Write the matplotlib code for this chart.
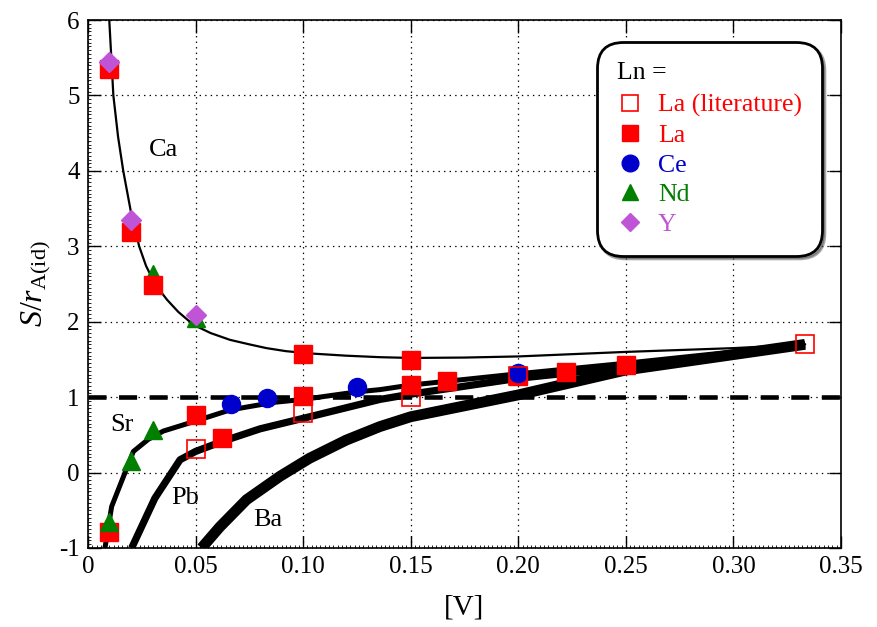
import matplotlib
matplotlib.use("Agg")
import matplotlib.pyplot as plt
from matplotlib.ticker import MultipleLocator
from matplotlib.lines import Line2D

plt.rcParams['font.family'] = ['Liberation Serif', 'DejaVu Serif']
plt.rcParams['mathtext.fontset'] = 'custom'
plt.rcParams['mathtext.rm'] = 'Liberation Serif'
plt.rcParams['mathtext.it'] = 'Liberation Serif:italic'
plt.rcParams['axes.unicode_minus'] = False
plt.rcParams['lines.scale_dashes'] = False

# ---- data ----
la_lit_x = [0.05, 0.10, 0.15, 0.20, 0.3333]
la_lit_y = [0.31, 0.79, 1.00, 1.28, 1.70]

la_x = [0.01, 0.01, 0.02, 0.03, 0.05, 0.0625, 0.10, 0.10, 0.15, 0.15, 0.1667, 0.20, 0.2222, 0.25]
la_y = [5.35, -0.79, 3.19, 2.49, 0.76, 0.46, 1.57, 1.02, 1.49, 1.16, 1.22, 1.28, 1.34, 1.42]

ce_x = [0.0667, 0.0833, 0.125, 0.20]
ce_y = [0.91, 0.99, 1.13, 1.32]

nd_x = [0.01, 0.02, 0.03, 0.05]
nd_y = [5.40, 3.28, 2.63, 2.05]
nd_x2 = [0.01, 0.02, 0.03]
nd_y2 = [-0.65, 0.15, 0.565]

y_x = [0.01, 0.02, 0.05]
y_y = [5.45, 3.35, 2.09]

ca_x = [0.0099, 0.0118, 0.0140, 0.0164, 0.020, 0.0238, 0.027, 0.030, 0.033, 0.0368, 0.042, 0.049,
        0.057, 0.066, 0.075, 0.083, 0.092, 0.103, 0.120, 0.1357, 0.15, 0.175, 0.20, 0.25, 0.30, 0.3333]
ca_y = [6.0, 5.0, 4.45, 4.0, 3.45, 3.0, 2.74, 2.57, 2.43, 2.29, 2.13, 1.96,
        1.85, 1.76, 1.70, 1.65, 1.61, 1.58, 1.55, 1.53, 1.52, 1.525, 1.54, 1.60, 1.65, 1.70]

sr_x = [0.0079, 0.011, 0.0211, 0.028, 0.035, 0.0474, 0.066, 0.0861, 0.10, 0.125, 0.1357, 0.15, 0.20, 0.25, 0.3333]
sr_y = [-1.0, -0.45, 0.28, 0.44, 0.55, 0.66, 0.83, 0.93, 0.97, 1.07, 1.10, 1.16, 1.31, 1.45, 1.70]

pb_x = [0.0203, 0.0311, 0.0428, 0.05, 0.0621, 0.080, 0.103, 0.1357, 0.15, 0.20, 0.25, 0.3333]
pb_y = [-1.0, -0.34, 0.17, 0.28, 0.41, 0.58, 0.74, 0.97, 1.04, 1.25, 1.40, 1.70]

ba_x = [0.0528, 0.0613, 0.0737, 0.0892, 0.103, 0.120, 0.1357, 0.15, 0.20, 0.25, 0.3333]
ba_y = [-1.0, -0.72, -0.36, -0.05, 0.19, 0.43, 0.61, 0.74, 1.03, 1.36, 1.70]

xticks = [0, 0.05, 0.10, 0.15, 0.20, 0.25, 0.30, 0.35]
xtick_labels = ['0', '0.05', '0.10', '0.15', '0.20', '0.25', '0.30', '0.35']
yticks = [-1, 0, 1, 2, 3, 4, 5, 6]
ytick_labels = ['-1', '0', '1', '2', '3', '4', '5', '6']

RED = '#ff0000'
BLUE = '#0000cc'
GREEN = '#007f00'
PURPLE = '#bf55d6'

fig = plt.figure(figsize=(8.78, 6.27), dpi=100)
ax = fig.add_axes([0.1002, 0.126, 0.8576, 0.842])

ax.set_xlim(0, 0.35)
ax.set_ylim(-1, 6)

# grid
ax.grid(True, which='major', color='black', linestyle=(0, (1, 3)), linewidth=0.9)

# curves
ax.plot(ca_x, ca_y, color='black', lw=1.6, zorder=3)
ax.plot(sr_x, sr_y, color='black', lw=3.6, zorder=3, solid_capstyle='butt')
ax.plot(pb_x, pb_y, color='black', lw=5.2, zorder=3, solid_capstyle='butt')
ax.plot(ba_x, ba_y, color='black', lw=7.8, zorder=3, solid_capstyle='butt')

# y = 1 reference line
ax.axhline(1, color='black', lw=3.3, dashes=[13, 9], zorder=3)

# markers
ms = 13
ax.plot(nd_x, nd_y, '^', color=GREEN, ms=ms, ls='none', zorder=4)
ax.plot(la_x, la_y, 's', color=RED, ms=ms, ls='none', zorder=5)
ax.plot(nd_x2, nd_y2, '^', color=GREEN, ms=ms, ls='none', zorder=6)
ax.plot(y_x, y_y, 'D', color=PURPLE, ms=10, ls='none', zorder=6)
ax.plot(ce_x, ce_y, 'o', color=BLUE, ms=13, ls='none', zorder=6)
ax.plot(la_lit_x, la_lit_y, 's', mfc='none', mec=RED, mew=1.2, ms=ms, ls='none', zorder=6)

# curve labels
lab_fs = 19
ax.text(0.035, 4.28, 'Ca', fontsize=lab_fs, ha='center', va='center')
ax.text(0.016, 0.63, 'Sr', fontsize=lab_fs, ha='center', va='center')
ax.text(0.045, -0.34, 'Pb', fontsize=lab_fs, ha='center', va='center')
ax.text(0.0836, -0.63, 'Ba', fontsize=lab_fs, ha='center', va='center')

# ticks
ax.set_xticks(xticks)
ax.set_xticklabels(xtick_labels)
ax.set_yticks(yticks)
ax.set_yticklabels(ytick_labels)
ax.xaxis.set_minor_locator(MultipleLocator(0.002))
ax.yaxis.set_minor_locator(MultipleLocator(0.05))
ax.tick_params(which='major', direction='in', length=9, width=1, top=True, right=True,
               labelsize=18, pad=6)
ax.tick_params(which='minor', direction='in', length=2, width=0.6, top=False, right=False)
for s in ax.spines.values():
    s.set_linewidth(1.2)

ax.set_xlabel('[V]', fontsize=21, labelpad=12)
ax.set_ylabel(r'$S/r_{\mathrm{A(id)}}$', fontsize=23, labelpad=4)

# legend
leg_handles = [
    Line2D([], [], marker='s', ls='none', mfc='none', mec=RED, mew=1.2, ms=12),
    Line2D([], [], marker='s', ls='none', color=RED, ms=12),
    Line2D([], [], marker='o', ls='none', color=BLUE, ms=12),
    Line2D([], [], marker='^', ls='none', color=GREEN, ms=12),
    Line2D([], [], marker='D', ls='none', color=PURPLE, ms=9),
]
leg_labels = ['La (literature)', 'La', 'Ce', 'Nd', 'Y']
leg = ax.legend(leg_handles, leg_labels, title='Ln =', loc='upper right',
                bbox_to_anchor=(0.975, 0.958), fontsize=18.5, title_fontsize=18.5,
                frameon=True, fancybox=True, shadow=True, handletextpad=0.6,
                labelspacing=0.26, borderpad=0.78, handlelength=1.0,
                borderaxespad=0.0)
leg._legend_box.align = 'left'
leg._legend_box.sep = 7
frame = leg.get_frame()
frame.set_edgecolor('black')
frame.set_linewidth(2)
frame.set_boxstyle('round,pad=0,rounding_size=1.0')
frame.set_alpha(1)
colors = [RED, RED, BLUE, GREEN, PURPLE]
for t, c in zip(leg.get_texts(), colors):
    t.set_color(c)
leg.set_zorder(10)

fig.savefig('out.png', dpi=100)
